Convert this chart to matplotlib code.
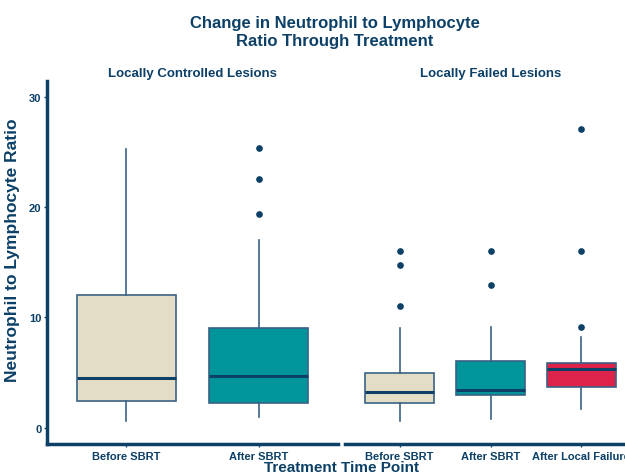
import matplotlib.pyplot as plt

plt.rcParams['font.family'] = ['Liberation Sans', 'DejaVu Sans']
plt.rcParams['font.weight'] = 'bold'

navy = '#0C4067'
edge = '#3B6285'

# box statistics (NLR)
ctrl_labels = ['Before SBRT', 'After SBRT']
ctrl_q1 = [2.45, 2.25]
ctrl_med = [4.5, 4.7]
ctrl_q3 = [12.0, 9.07]
ctrl_lo = [0.55, 1.0]
ctrl_hi = [25.3, 17.0]
ctrl_out = [[], [25.4, 22.6, 19.4]]

fail_labels = ['Before SBRT', 'After SBRT', 'After Local Failure']
fail_q1 = [2.27, 2.99, 3.72]
fail_med = [3.26, 3.44, 5.35]
fail_q3 = [4.99, 6.07, 5.89]
fail_lo = [0.63, 0.8, 1.72]
fail_hi = [9.07, 9.16, 8.25]
fail_out = [[16.0, 14.8, 11.06], [16.0, 12.96], [27.1, 16.0, 9.16]]

fills = ['#E4DDC6', '#00959B', '#DD2349']


def draw_panel(ax, labels, q1, med, q3, lo, hi, out, title):
    stats = []
    for i in range(len(labels)):
        stats.append({'q1': q1[i], 'med': med[i], 'q3': q3[i],
                      'whislo': lo[i], 'whishi': hi[i], 'fliers': out[i]})
    bp = ax.bxp(stats, positions=range(1, len(labels) + 1), widths=0.75,
                patch_artist=True, showcaps=False,
                boxprops=dict(edgecolor=edge, linewidth=1.2),
                whiskerprops=dict(color=edge, linewidth=1.2),
                medianprops=dict(color=navy, linewidth=2.2),
                flierprops=dict(marker='o', markerfacecolor=navy, markeredgecolor=navy,
                                markersize=3.8))
    for patch, c in zip(bp['boxes'], fills):
        patch.set_facecolor(c)
    ax.set_xlim(0.4, len(labels) + 0.6)
    ax.set_ylim(-1.5, 31.5)
    ax.set_xticks(range(1, len(labels) + 1))
    ax.set_xticklabels(labels, fontsize=8, fontweight='bold', color=navy)
    ax.set_title(title, fontsize=9.5, fontweight='bold', color=navy, pad=3)
    for s in ['top', 'right']:
        ax.spines[s].set_visible(False)
    ax.spines['bottom'].set_color(navy)
    ax.spines['bottom'].set_linewidth(2.5)
    ax.tick_params(axis='x', colors=navy, length=2, width=1, pad=3)


fig = plt.figure(figsize=(6.25, 4.77), dpi=100)
ax1 = fig.add_axes([0.0752, 0.067, 0.4656, 0.762])
ax2 = fig.add_axes([0.552, 0.067, 0.4656, 0.762])

draw_panel(ax1, ctrl_labels, ctrl_q1, ctrl_med, ctrl_q3, ctrl_lo, ctrl_hi, ctrl_out,
           'Locally Controlled Lesions')
draw_panel(ax2, fail_labels, fail_q1, fail_med, fail_q3, fail_lo, fail_hi, fail_out,
           'Locally Failed Lesions')

ax1.set_yticks([0, 10, 20, 30])
ax1.tick_params(axis='y', colors=navy, labelsize=8, length=2, width=1, pad=2)
for t in ax1.get_yticklabels():
    t.set_fontweight('bold')
ax1.spines['left'].set_color(navy)
ax1.spines['left'].set_linewidth(2.5)
ax1.set_ylabel('Neutrophil to Lymphocyte Ratio', fontsize=12.5, fontweight='bold',
               color=navy)
ax1.yaxis.set_label_coords(-0.093, 0.536)

ax2.spines['left'].set_visible(False)
ax2.set_yticks([])

fig.text(0.536, 0.931, 'Change in Neutrophil to Lymphocyte\nRatio Through Treatment',
         ha='center', va='center', fontsize=12, fontweight='bold', color=navy,
         linespacing=1.25)
fig.text(0.546, 0.018, 'Treatment Time Point', ha='center', va='center',
         fontsize=11, fontweight='bold', color=navy)

fig.savefig('out.png', dpi=100)
